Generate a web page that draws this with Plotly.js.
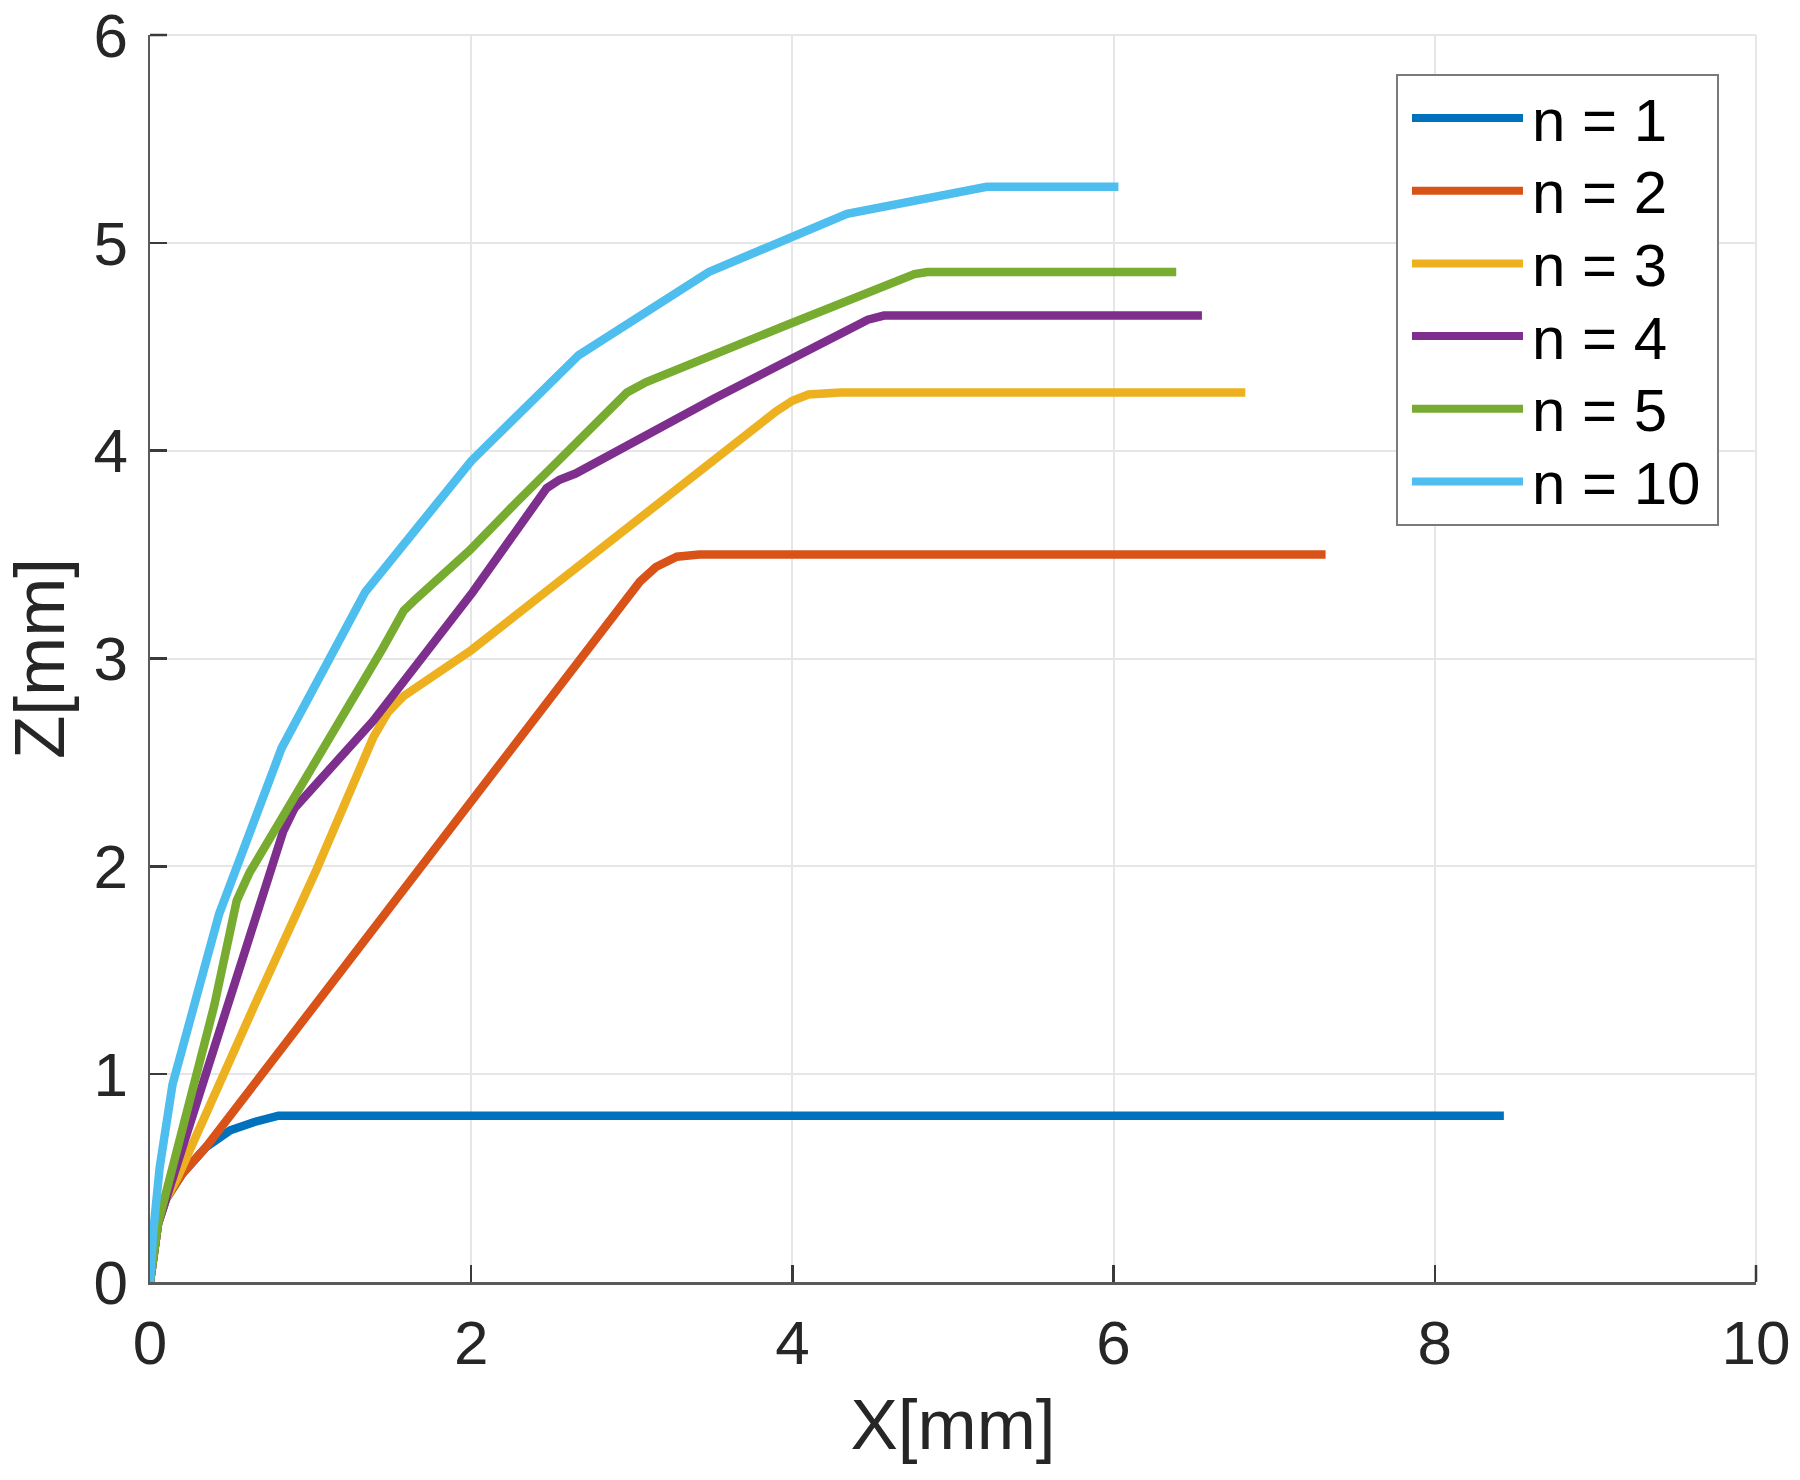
<!DOCTYPE html>
<html><head><meta charset="utf-8">
<script src="https://cdn.plot.ly/plotly-3.0.1.min.js"></script>
<style>body{margin:0;background:#fff}</style>
</head><body><div id="chart" style="width:1800px;height:1480px"></div>
<script>
const seriesNames = ['n = 1', 'n = 2', 'n = 3', 'n = 4', 'n = 5', 'n = 10'];
const seriesColors = ['#0072BD', '#D95319', '#EDB120', '#7E2F8E', '#77AC30', '#4DBEEE'];

const x_n1 = [0, 0.02, 0.05, 0.1, 0.2, 0.35, 0.5, 0.65, 0.8, 8.43];
const z_n1 = [0, 0.14, 0.28, 0.4, 0.52, 0.65, 0.73, 0.77, 0.8, 0.8];

const x_n2 = [0, 0.02, 0.05, 0.1, 0.2, 0.35, 2.95, 3.05, 3.15, 3.28, 3.42, 7.32];
const z_n2 = [0, 0.14, 0.28, 0.4, 0.52, 0.65, 3.27, 3.37, 3.44, 3.49, 3.5, 3.5];

const x_n3 = [0, 0.02, 0.05, 0.1, 0.17, 0.65, 1.04, 1.39, 1.48, 1.58, 1.7, 2.0, 3.9, 4.0, 4.1, 4.2, 4.3, 6.82];
const z_n3 = [0, 0.14, 0.28, 0.4, 0.5, 1.33, 1.99, 2.62, 2.74, 2.82, 2.88, 3.04, 4.19, 4.24, 4.27, 4.28, 4.28, 4.28];

const x_n4 = [0, 0.02, 0.05, 0.1, 0.5, 0.83, 0.9, 0.98, 1.39, 2.01, 2.41, 2.47, 2.55, 2.65, 3.51, 4.37, 4.47, 4.57, 4.7, 6.55];
const z_n4 = [0, 0.14, 0.28, 0.4, 1.36, 2.17, 2.28, 2.35, 2.70, 3.32, 3.76, 3.82, 3.86, 3.89, 4.25, 4.60, 4.63, 4.65, 4.65, 4.65];

const x_n5 = [0, 0.02, 0.05, 0.4, 0.54, 0.62, 0.8, 1.10, 1.45, 1.58, 1.66, 1.99, 2.28, 2.97, 3.09, 3.95, 4.68, 4.76, 4.84, 6.39];
const z_n5 = [0, 0.14, 0.28, 1.33, 1.835, 1.97, 2.2, 2.60, 3.05, 3.23, 3.29, 3.52, 3.75, 4.28, 4.33, 4.60, 4.83, 4.85, 4.86, 4.86];

const x_n10 = [0, 0.02, 0.06, 0.14, 0.43, 0.82, 1.34, 2.0, 2.67, 3.48, 4.34, 5.21, 6.03];
const z_n10 = [0, 0.24, 0.55, 0.95, 1.77, 2.57, 3.32, 3.95, 4.46, 4.86, 5.14, 5.27, 5.27];

const xTickVals = [0, 2, 4, 6, 8, 10];
const yTickVals = [0, 1, 2, 3, 4, 5, 6];

const xs = [x_n1, x_n2, x_n3, x_n4, x_n5, x_n10];
const zs = [z_n1, z_n2, z_n3, z_n4, z_n5, z_n10];

const W = 1800, H = 1480;
const M = {l: 150, r: 44, t: 35, b: 198};
const PW = W - M.l - M.r, PH = H - M.t - M.b;
const px2x = p => (p - M.l) / PW;
const py2y = p => (H - M.b - p) / PH;

const traces = xs.map((x, i) => ({
  type: 'scatter', mode: 'lines', x: x, y: zs[i], name: seriesNames[i],
  line: {color: seriesColors[i], width: 8.5}, showlegend: false, cliponaxis: false
}));

const FONT = '"Liberation Sans", Arial, Helvetica, sans-serif';
const TXT = '#262626';
const GRID = '#e6e6e6';

// edge grid lines (top and right) that Plotly omits at the range ends
const shapes = [
  {type: 'line', xref: 'paper', yref: 'paper', layer: 'below', x0: 0, x1: 1, y0: 1, y1: 1, line: {color: GRID, width: 2}},
  {type: 'line', xref: 'paper', yref: 'paper', layer: 'below', x0: 1, x1: 1, y0: 0, y1: 1, line: {color: GRID, width: 2}},
  {type: 'line', xref: 'paper', yref: 'paper', layer: 'above', x0: 0, x1: px2x(M.l + 17), y0: 1, y1: 1, line: {color: '#3a3a3a', width: 2.5}},
  {type: 'line', xref: 'paper', yref: 'paper', layer: 'above', x0: 1, x1: 1, y0: 0, y1: py2y(H - M.b - 17), line: {color: '#3a3a3a', width: 2.5}}
];
// Custom legend (box + line samples + labels)
shapes.push({
  type: 'rect', xref: 'paper', yref: 'paper', layer: 'above',
  x0: px2x(1397), x1: px2x(1718), y0: py2y(525), y1: py2y(75),
  fillcolor: '#ffffff', line: {color: '#7a7a7a', width: 2}
});
const annotations = [];
seriesNames.forEach((name, i) => {
  const yc = 118 + i * 72.7;
  shapes.push({
    type: 'line', xref: 'paper', yref: 'paper', layer: 'above',
    x0: px2x(1412), x1: px2x(1523), y0: py2y(yc), y1: py2y(yc),
    line: {color: seriesColors[i], width: 8}
  });
  annotations.push({
    xref: 'paper', yref: 'paper', x: px2x(1530), y: py2y(yc + 2),
    xanchor: 'left', yanchor: 'middle', showarrow: false, text: name,
    font: {family: FONT, size: 60, color: '#000'}
  });
});

const axisCommon = {
  showline: true, linecolor: '#5a5a5a', linewidth: 2.5, mirror: false,
  showgrid: true, gridcolor: GRID, gridwidth: 2, zeroline: false,
  ticks: 'inside', ticklen: 17, tickwidth: 2.5, tickcolor: '#3a3a3a',
  tickfont: {family: FONT, size: 62, color: TXT}, tickmode: 'array',
  ticklabeloverflow: 'allow'
};

const layout = {
  width: W, height: H, margin: M,
  paper_bgcolor: '#ffffff', plot_bgcolor: '#ffffff',
  font: {family: FONT, color: TXT},
  xaxis: Object.assign({}, axisCommon, {
    range: [0, 10], tickvals: xTickVals, ticktext: xTickVals.map(String),
    ticklabelstandoff: 5,
    title: {text: 'X[mm]', font: {family: FONT, size: 71, color: TXT}, standoff: 24}
  }),
  yaxis: Object.assign({}, axisCommon, {
    range: [0, 6], tickvals: yTickVals, ticktext: yTickVals.map(String),
    ticklabelstandoff: 7,
    title: {text: 'Z[mm]', font: {family: FONT, size: 71, color: TXT}, standoff: 35}
  }),
  shapes: shapes, annotations: annotations, showlegend: false
};

Plotly.newPlot('chart', traces, layout, {displayModeBar: false, staticPlot: true});
</script>
</body></html>
